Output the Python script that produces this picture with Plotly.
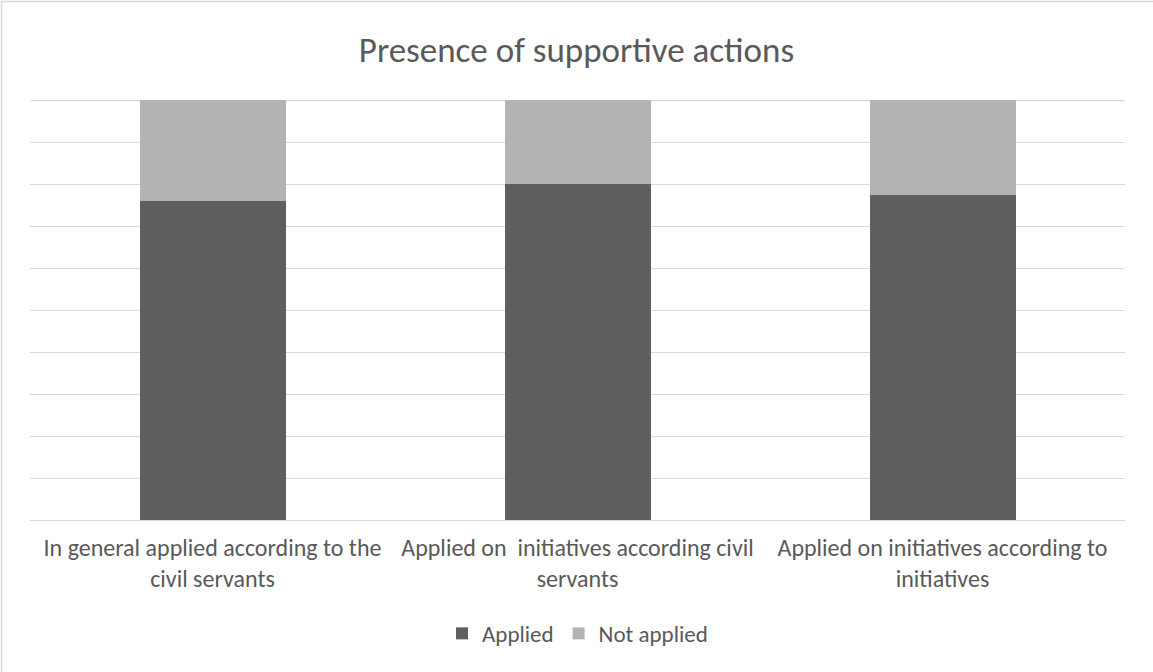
import plotly.graph_objects as go

categories = [
    "In general applied according to the<br>civil servants",
    "Applied on  initiatives according civil<br>servants",
    "Applied on initiatives according to<br>initiatives",
]
applied = [76, 80, 77.4]
not_applied = [24, 20, 22.6]

FONT = "Carlito, Calibri, Lato, 'Open Sans', sans-serif"
TEXT = "#595959"
GRID = "#d9d9d9"

fig = go.Figure()
fig.add_trace(go.Bar(x=categories, y=applied, name="Applied",
                     marker=dict(color="#5f5f5f", line=dict(width=0))))
fig.add_trace(go.Bar(x=categories, y=not_applied, name="Not applied",
                     marker=dict(color="#b3b3b3", line=dict(width=0))))

fig.update_layout(
    width=1153, height=672,
    barmode="stack", bargap=0.6,
    paper_bgcolor="white", plot_bgcolor="white",
    margin=dict(l=30, r=28, t=100, b=152),
    font=dict(family=FONT, color=TEXT, size=24),
    title=dict(text="Presence of supportive actions", x=0.5, xanchor="center",
               y=1 - 50 / 672, yanchor="middle",
               font=dict(family=FONT, size=35, color=TEXT)),
    legend=dict(orientation="h", x=0.5, xanchor="center", y=-0.27, yanchor="middle",
                font=dict(family=FONT, size=23, color=TEXT),
                itemwidth=30, traceorder="normal"),
    xaxis=dict(showgrid=False, showline=True, linecolor=GRID, linewidth=1,
               ticks="", tickfont=dict(family=FONT, size=24, color=TEXT),
               ticklabelstandoff=6),
    yaxis=dict(range=[0, 100], dtick=10, showgrid=True, gridcolor=GRID,
               gridwidth=1, showticklabels=False, zeroline=False, ticks=""),
    shapes=[
        # top gridline at 100%
        dict(type="line", xref="paper", yref="y", x0=0, x1=1, y0=100, y1=100,
             layer="below", line=dict(color=GRID, width=2.5)),
        # chart-area border (top and left edges)
        dict(type="line", xref="paper", yref="paper",
             x0=(1.5 - 30) / 1095, x1=1.2, y0=(520 - 1.5) / 420, y1=(520 - 1.5) / 420,
             line=dict(color=GRID, width=1.5)),
        dict(type="line", xref="paper", yref="paper",
             x0=(1.5 - 30) / 1095, x1=(1.5 - 30) / 1095, y0=(520 - 1.5) / 420, y1=-0.5,
             line=dict(color=GRID, width=1.5)),
    ],
)

fig.write_html("out.html")
